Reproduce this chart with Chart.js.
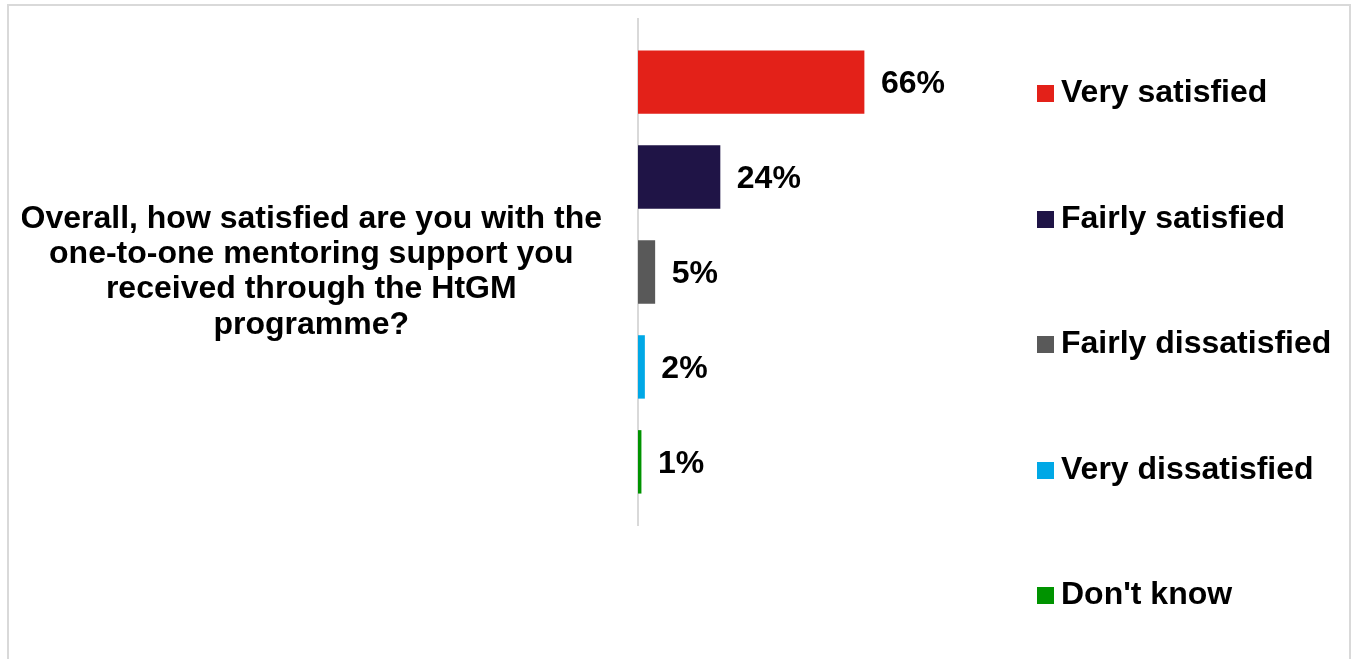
<!DOCTYPE html>
<html>
<head>
<meta charset="utf-8">
<script src="https://cdn.jsdelivr.net/npm/chart.js@4"></script>
<style>
    html, body { margin: 0; padding: 0; background: #fff; }
    #wrap { position: relative; width: 1353px; height: 659px; overflow: hidden; font-family: "Liberation Sans", Arial, sans-serif; }
    #frame { position: absolute; left: 7px; top: 4px; width: 1340px; height: 700px; border: 2px solid #d9d9d9; border-bottom: none; }
    #chart { position: absolute; left: 0; top: 0; }
    #legend { position: absolute; left: 1037px; top: 73px; }
    .legend-item { display: flex; align-items: center; height: 36px; margin-bottom: 89.5px; font-weight: bold; font-size: 32px; line-height: 36px; color: #000; white-space: nowrap; }
    .legend-box { width: 17px; height: 17px; margin-right: 7px; position: relative; top: 2.5px; }
</style>
</head>
<body>
<div id="wrap">
    <div id="frame"></div>
    <canvas id="chart" width="1353" height="659"></canvas>
    <div id="legend"></div>
</div>
<script>
const question = ['Overall, how satisfied are you with the', 'one-to-one mentoring support you', 'received through the HtGM', 'programme?'];
const answers = ['Very satisfied', 'Fairly satisfied', 'Fairly dissatisfied', 'Very dissatisfied', "Don't know"];
const percents = [66, 24, 5, 2, 1];
const colours = ['#e32119', '#1f1446', '#595959', '#00a8e6', '#009300'];

const FONT = '"Liberation Sans", Arial, sans-serif';

// value labels at the end of each bar
const barLabels = {
    id: 'barLabels',
    afterDatasetsDraw(chart) {
        const ctx = chart.ctx;
        ctx.save();
        ctx.font = 'bold 32px ' + FONT;
        ctx.fillStyle = '#000';
        ctx.textAlign = 'left';
        ctx.textBaseline = 'middle';
        chart.data.datasets.forEach((ds, i) => {
            const bar = chart.getDatasetMeta(i).data[0];
            ctx.fillText(ds.data[0] + '%', bar.x + 16.5, bar.y + 2.5);
        });
        ctx.restore();
    }
};

const ctx = document.getElementById('chart').getContext('2d');

const chart = new Chart(ctx, {
    type: 'bar',
    data: {
        labels: [question],
        datasets: answers.map((a, i) => ({
            label: a,
            data: [percents[i]],
            backgroundColor: colours[i],
            borderWidth: 0
        }))
    },
    options: {
        indexAxis: 'y',
        responsive: false,
        animation: false,
        categoryPercentage: 0.938,
        barPercentage: 0.668,
        layout: { padding: { left: 22, top: 19, right: 372, bottom: 134 } },
        plugins: {
            legend: { display: false },
            tooltip: { enabled: false }
        },
        scales: {
            x: { display: false, min: 0, max: 100 },
            y: {
                grid: { display: false, drawTicks: false },
                border: { display: true, color: '#d9d9d9', width: 2 },
                ticks: {
                    crossAlign: 'center',
                    padding: 36,
                    color: '#000',
                    font: { family: FONT, size: 32, weight: 'bold', lineHeight: 1.1 }
                },
                afterFit(scale) {
                    scale.width = 616;
                    scale.paddingTop = 0;
                    scale.paddingBottom = 0;
                }
            }
        }
    },
    plugins: [barLabels]
});

// legend built from the chart datasets
const legend = document.getElementById('legend');
chart.data.datasets.forEach(ds => {
    const item = document.createElement('div');
    item.className = 'legend-item';
    const box = document.createElement('span');
    box.className = 'legend-box';
    box.style.background = ds.backgroundColor;
    item.appendChild(box);
    item.appendChild(document.createTextNode(ds.label));
    legend.appendChild(item);
});
</script>
</body>
</html>
